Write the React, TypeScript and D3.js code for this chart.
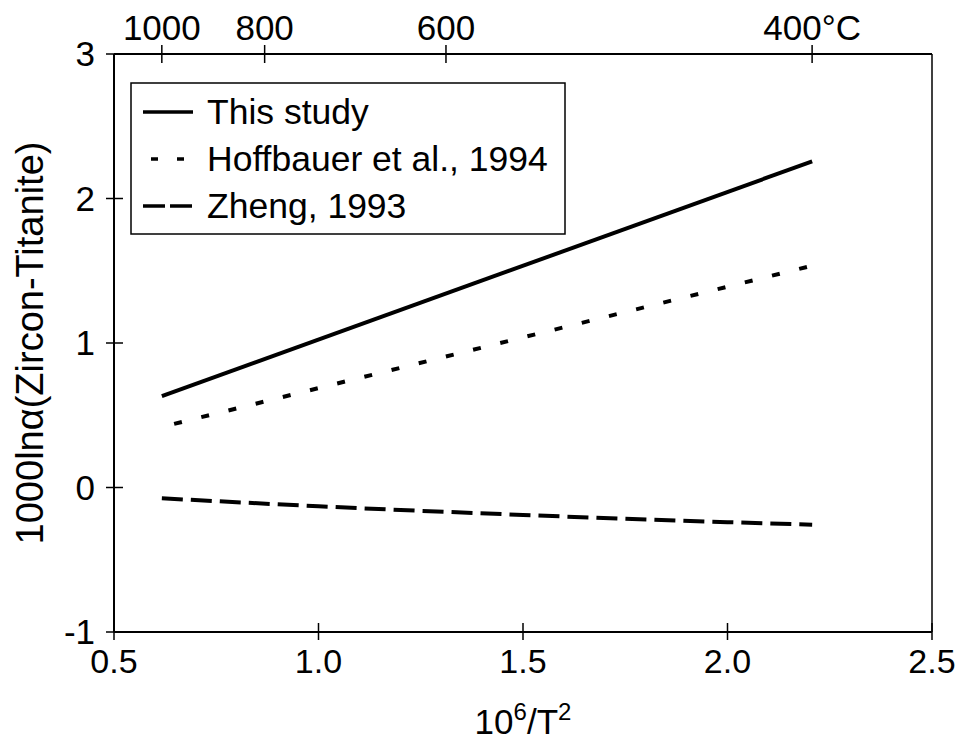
import React from "react";
import * as d3 from "d3";

const xTicks = [0.5, 1.0, 1.5, 2.0, 2.5];
const yTicks = [-1, 0, 1, 2, 3];
const tempTicksC = [1000, 800, 600, 400];
const tempLabels = ["1000", "800", "600", "400°C"];

const thisStudyX = [0.617, 2.207];
const thisStudyY = [0.632, 2.257];
const hoffbauerX = [0.647, 2.207];
const hoffbauerY = [0.44, 1.535];
const zhengX = [0.617, 1.0, 1.5, 2.0, 2.207];
const zhengY = [-0.075, -0.13, -0.19, -0.24, -0.257];

const legendLabels = ["This study", "Hoffbauer et al., 1994", "Zheng, 1993"];
const dashes = ["none", "8,20", "21,8"];
const legendDashes = ["none", "7,19", "22,5"];

const W = 958, H = 745;
const L = 114, R = 932, T = 54, B = 632;
const FONT = "'Liberation Sans', Arial, Helvetica, sans-serif";

export default function App() {
  const x = d3.scaleLinear().domain([0.5, 2.5]).range([L, R]);
  const y = d3.scaleLinear().domain([-1, 3]).range([B, T]);
  const line = d3.line<[number, number]>().x(d => x(d[0])).y(d => y(d[1]));
  const curve = d3.line<[number, number]>().x(d => x(d[0])).y(d => y(d[1])).curve(d3.curveMonotoneX);
  const series: [number, number][][] = [
    thisStudyX.map((v, i) => [v, thisStudyY[i]]),
    hoffbauerX.map((v, i) => [v, hoffbauerY[i]]),
    zhengX.map((v, i) => [v, zhengY[i]]),
  ];
  const tempToX = (c: number) => 1e6 / Math.pow(c + 273.15, 2);

  return (
    <svg width={W} height={H} style={{ position: "absolute", left: 0, top: 0, background: "#fff" }} fontFamily={FONT}>
      <rect x={0} y={0} width={W} height={H} fill="#fff" />
      {/* frame */}
      <line x1={L} x2={L} y1={T} y2={B} stroke="#000" strokeWidth={2} />
      <line x1={L} x2={R} y1={B} y2={B} stroke="#000" strokeWidth={2} />
      <line x1={L} x2={R} y1={T} y2={T} stroke="#000" strokeWidth={2} />
      <line x1={R} x2={R} y1={T} y2={B} stroke="#000" strokeWidth={1.5} />
      {/* bottom ticks */}
      {xTicks.map(t => (
        <g key={"x" + t}>
          <line x1={x(t)} x2={x(t)} y1={B - 9} y2={B + 8} stroke="#000" strokeWidth={1.5} />
          <text x={x(t)} y={B + 41} textAnchor="middle" fontSize={34}>{t.toFixed(1)}</text>
        </g>
      ))}
      {/* left ticks */}
      {yTicks.map(t => (
        <g key={"y" + t}>
          <line x1={L - 8} x2={L + 9} y1={y(t)} y2={y(t)} stroke="#000" strokeWidth={1.5} />
          <text x={L - 19} y={y(t) + 12} textAnchor="end" fontSize={35}>{t}</text>
        </g>
      ))}
      {/* top temperature ticks */}
      {tempTicksC.map((c, i) => (
        <g key={"t" + c}>
          <line x1={x(tempToX(c))} x2={x(tempToX(c))} y1={T - 9} y2={T + 9} stroke="#000" strokeWidth={1.5} />
          <text x={x(tempToX(c))} y={T - 14} textAnchor="middle" fontSize={35}>{tempLabels[i]}</text>
        </g>
      ))}
      {/* data lines */}
      {series.map((s, i) => (
        <path key={"s" + i} d={(i === 2 ? curve : line)(s) || ""} fill="none" stroke="#000" strokeWidth={4}
          strokeDasharray={dashes[i]} />
      ))}
      {/* legend */}
      <rect x={131} y={83} width={434} height={151} fill="#fff" stroke="#000" strokeWidth={1.5} />
      {legendLabels.map((lab, i) => {
        const cy = 112 + i * 47;
        return (
          <g key={"l" + i}>
            <line x1={143} x2={193} y1={cy} y2={cy} stroke="#000" strokeWidth={3.5}
              strokeDasharray={legendDashes[i]} strokeDashoffset={i === 1 ? -8 : 0} />
            <text x={207} y={cy + 12} fontSize={35.5}>{lab}</text>
          </g>
        );
      })}
      {/* axis titles */}
      <text x={(L + R) / 2} y={734} textAnchor="middle" fontSize={35}>
        10<tspan dy={-14} fontSize={24}>6</tspan><tspan dy={14}>/T</tspan><tspan dy={-14} fontSize={24}>2</tspan>
      </text>
      <text transform={`translate(43,${(T + B) / 2}) rotate(-90)`} textAnchor="middle" fontSize={38}>
        1000lnα(Zircon-Titanite)
      </text>
    </svg>
  );
}
